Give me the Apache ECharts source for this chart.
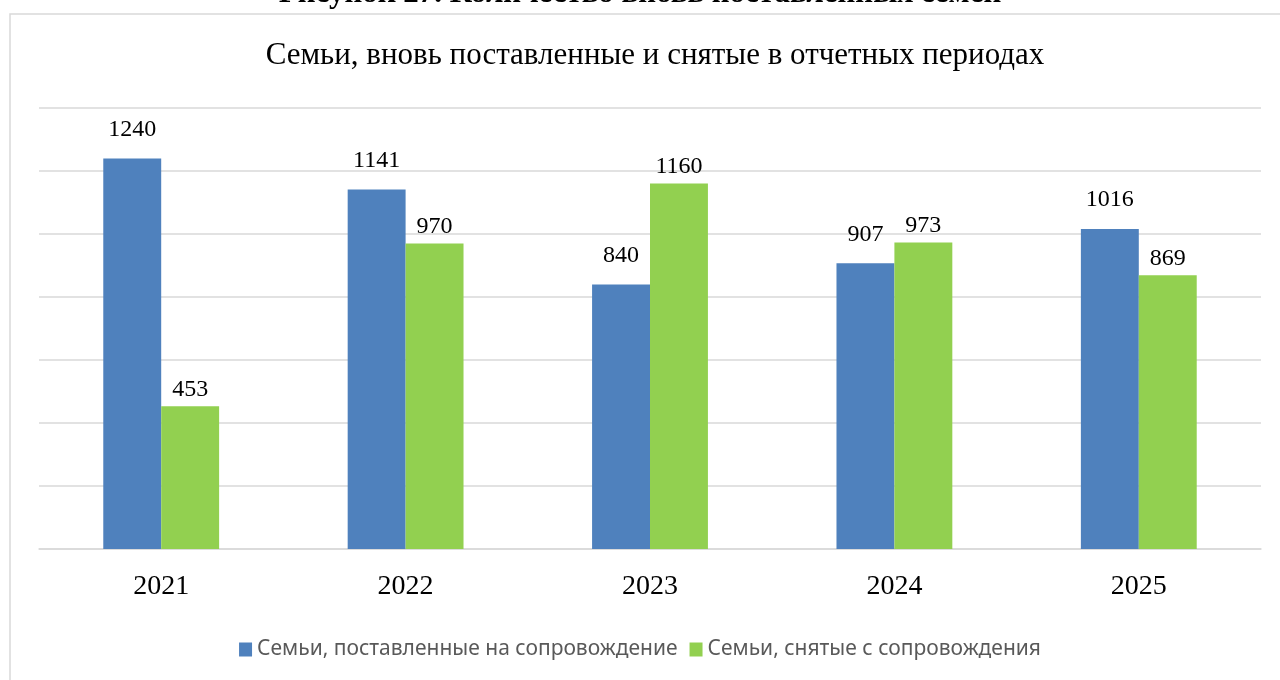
<!DOCTYPE html>
<html>
<head>
<meta charset="utf-8">
<script src="https://cdn.jsdelivr.net/npm/echarts@6/dist/echarts.min.js"></script>
<style>
  html, body { margin: 0; padding: 0; background: #ffffff; }
  #chart { width: 1280px; height: 680px; }
</style>
</head>
<body>
<div id="chart"></div>
<script>
// годы и значения
const years = ['2021', '2022', '2023', '2024', '2025'];
const placed = [1240, 1141, 840, 907, 1016];
const removed = [453, 970, 1160, 973, 869];
const seriesNames = ['Семьи, поставленные на сопровождение', 'Семьи, снятые с сопровождения'];

const serif = '"Liberation Serif", "Times New Roman", serif';

const chart = echarts.init(document.getElementById('chart'));

function barLabel(dist) {
  return {
    show: true,
    position: 'top',
    distance: dist,
    color: '#000000',
    fontFamily: serif,
    fontSize: 24
  };
}

const option = {
  backgroundColor: '#ffffff',
  animation: false,
  graphic: [
    {
      // рамка области диаграммы
      type: 'rect',
      shape: { x: 10, y: 14, width: 1290, height: 690 },
      style: { fill: 'none', stroke: '#d9d9d9', lineWidth: 1.5 }
    },
    {
      // подпись рисунка, обрезанная сверху
      type: 'text',
      left: 'center',
      top: -22,
      style: {
        text: 'Рисунок 27. Количество вновь поставленных семей',
        fontFamily: serif,
        fontWeight: 'bold',
        fontSize: 31,
        fill: '#000000'
      }
    }
  ],
  title: {
    text: 'Семьи, вновь поставленные и снятые в отчетных периодах',
    left: 650,
    textAlign: 'center',
    top: 35,
    textStyle: {
      fontFamily: serif,
      fontWeight: 'normal',
      fontSize: 31,
      color: '#000000'
    }
  },
  legend: {
    bottom: 15,
    left: 'center',
    itemWidth: 13,
    itemHeight: 14,
    itemGap: 12,
    icon: 'rect',
    textStyle: {
      fontFamily: '"Noto Sans", sans-serif',
      fontSize: 21,
      color: '#595959'
    },
    data: seriesNames
  },
  grid: {
    left: 39,
    right: 19,
    top: 108,
    bottom: 131
  },
  xAxis: {
    type: 'category',
    data: years,
    axisLine: { lineStyle: { color: '#d9d9d9', width: 1.5 } },
    axisTick: { show: false },
    axisLabel: {
      margin: 24,
      color: '#000000',
      fontFamily: serif,
      fontSize: 28
    }
  },
  yAxis: {
    type: 'value',
    min: 0,
    max: 1400,
    interval: 200,
    axisLabel: { show: false },
    axisLine: { show: false },
    axisTick: { show: false },
    splitLine: { lineStyle: { color: '#d9d9d9', width: 1.5 } }
  },
  series: [
    {
      name: seriesNames[0],
      type: 'bar',
      data: placed,
      barGap: '0%',
      barCategoryGap: '52.6%',
      itemStyle: { color: '#4f81bd' },
      label: barLabel(17)
    },
    {
      name: seriesNames[1],
      type: 'bar',
      data: removed,
      barGap: '0%',
      barCategoryGap: '52.6%',
      itemStyle: { color: '#92d050' },
      label: barLabel(5)
    }
  ]
};

chart.setOption(option);
</script>
</body>
</html>
